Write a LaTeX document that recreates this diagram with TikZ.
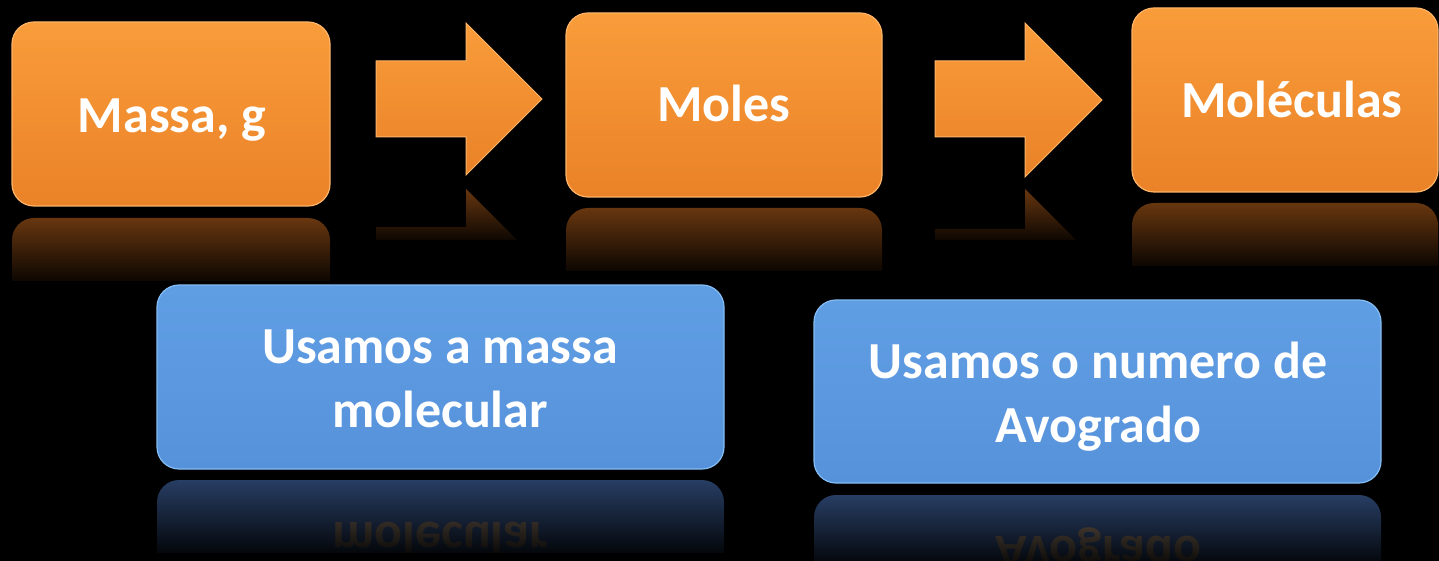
\documentclass[tikz,border=0pt]{standalone}
\usepackage{fontspec}
\setmainfont{Carlito}
\usepackage{graphicx}
\usetikzlibrary{fadings}
\tikzfading[name=fadedown, top color=transparent!100, bottom color=transparent!0]
\definecolor{orgtop}{RGB}{249,156,58}
\definecolor{orgbot}{RGB}{234,130,40}
\definecolor{orgrim}{RGB}{252,180,105}
\definecolor{orgref}{RGB}{104,55,16}
\definecolor{blutop}{RGB}{96,158,228}
\definecolor{blubot}{RGB}{86,146,218}
\definecolor{blurim}{RGB}{132,188,244}
\definecolor{bluref}{RGB}{40,62,100}
\definecolor{mirtxt}{RGB}{105,90,76}
\tikzset{
  obox/.style={rounded corners=22pt, top color=orgtop, bottom color=orgbot, draw=orgrim, line width=1.2pt, inner sep=0pt},
  bbox/.style={rounded corners=22pt, top color=blutop, bottom color=blubot, draw=blurim, line width=1.2pt, inner sep=0pt},
  oref/.style={rounded corners=22pt, fill=orgref},
  bref/.style={rounded corners=22pt, fill=bluref},
  fader/.style={fill=black, path fading=fadedown},
  lbl/.style={text=white, font=\fontsize{52}{64}\selectfont\bfseries, inner sep=0pt, align=center},
  mlbl/.style={text=mirtxt, font=\fontsize{52}{64}\selectfont\bfseries, inner sep=0pt, anchor=base},
  blockarrow/.style={top color=orgtop, bottom color=orgbot, draw=orgrim, line width=1pt, line join=miter},
  arrowref/.style={fill=orgref},
}
\begin{document}
\begin{tikzpicture}[x=1pt, y=-1pt]
\useasboundingbox (0,0) rectangle (1439,561);
\fill[black] (0,0) rectangle (1439,561);

% ---------- reflections ----------
\begin{scope}
  \clip (10,218) rectangle (332,280);
  \fill[oref] (12,218) rectangle (330,402);
  \fill[fader] (10,218) rectangle (332,290);
\end{scope}
\begin{scope}
  \clip (564,208) rectangle (884,270);
  \fill[oref] (566,208) rectangle (882,392);
  \fill[fader] (564,208) rectangle (884,280);
\end{scope}
\begin{scope}
  \clip (1130,203) rectangle (1439,265);
  \fill[oref] (1132,203) rectangle (1438,387);
  \fill[fader] (1130,203) rectangle (1439,275);
\end{scope}
\begin{scope}
  \clip (370,189) rectangle (550,240);
  \fill[arrowref] (376,303) -- (466,303) -- (466,341) -- (542,265) -- (466,189) -- (466,227) -- (376,227) -- cycle;
  \fill[fader] (370,189) rectangle (550,248);
\end{scope}
\begin{scope}
  \clip (930,189) rectangle (1110,240);
  \fill[arrowref] (935,305) -- (1025,305) -- (1025,343) -- (1102,266) -- (1025,189) -- (1025,229) -- (935,229) -- cycle;
  \fill[fader] (930,189) rectangle (1110,248);
\end{scope}
\begin{scope}
  \clip (150,480) rectangle (730,552);
  \fill[bref] (157,480) rectangle (724,664);
  \node[mlbl] (r4) at (440,522) {\scalebox{1}[-1]{molecular}};
  \fill[fader] (150,480) rectangle (730,562);
\end{scope}
\begin{scope}
  \clip (808,495) rectangle (1388,561);
  \fill[bref] (814,495) rectangle (1381,678);
  \node[mlbl] (r5) at (1098,536) {\scalebox{1}[-1]{Avogrado}};
  \fill[fader] (808,495) rectangle (1388,572);
\end{scope}

% ---------- boxes ----------
\node[obox, minimum width=318pt, minimum height=184pt] (b1) at (171,114) {};
\node[obox, minimum width=316pt, minimum height=184pt] (b2) at (724,105) {};
\node[obox, minimum width=306pt, minimum height=184pt] (b3) at (1285,100) {};
\node[bbox, minimum width=567pt, minimum height=184pt] (b4) at (440.5,377) {};
\node[bbox, minimum width=567pt, minimum height=183pt] (b5) at (1097.5,391.5) {};

% ---------- block arrows ----------
\draw[blockarrow] (376,61) -- (466,61) -- (466,23) -- (542,99) -- (466,175) -- (466,137) -- (376,137) -- cycle;
\draw[blockarrow] (935,61) -- (1025,61) -- (1025,23) -- (1102,100) -- (1025,177) -- (1025,137) -- (935,137) -- cycle;

% ---------- labels ----------
\node[lbl, anchor=base] (t1) at (172,133) {Massa, g};
\node[lbl, anchor=base] (t2) at (724,122) {Moles};
\node[lbl, anchor=base] (t3) at (1292,118) {Moléculas};
\node[lbl, anchor=base] (t4) at (440,427) {Usamos a massa\\molecular};
\node[lbl, anchor=base] (t5) at (1098,442) {Usamos o numero de\\Avogrado};
\end{tikzpicture}
\end{document}
